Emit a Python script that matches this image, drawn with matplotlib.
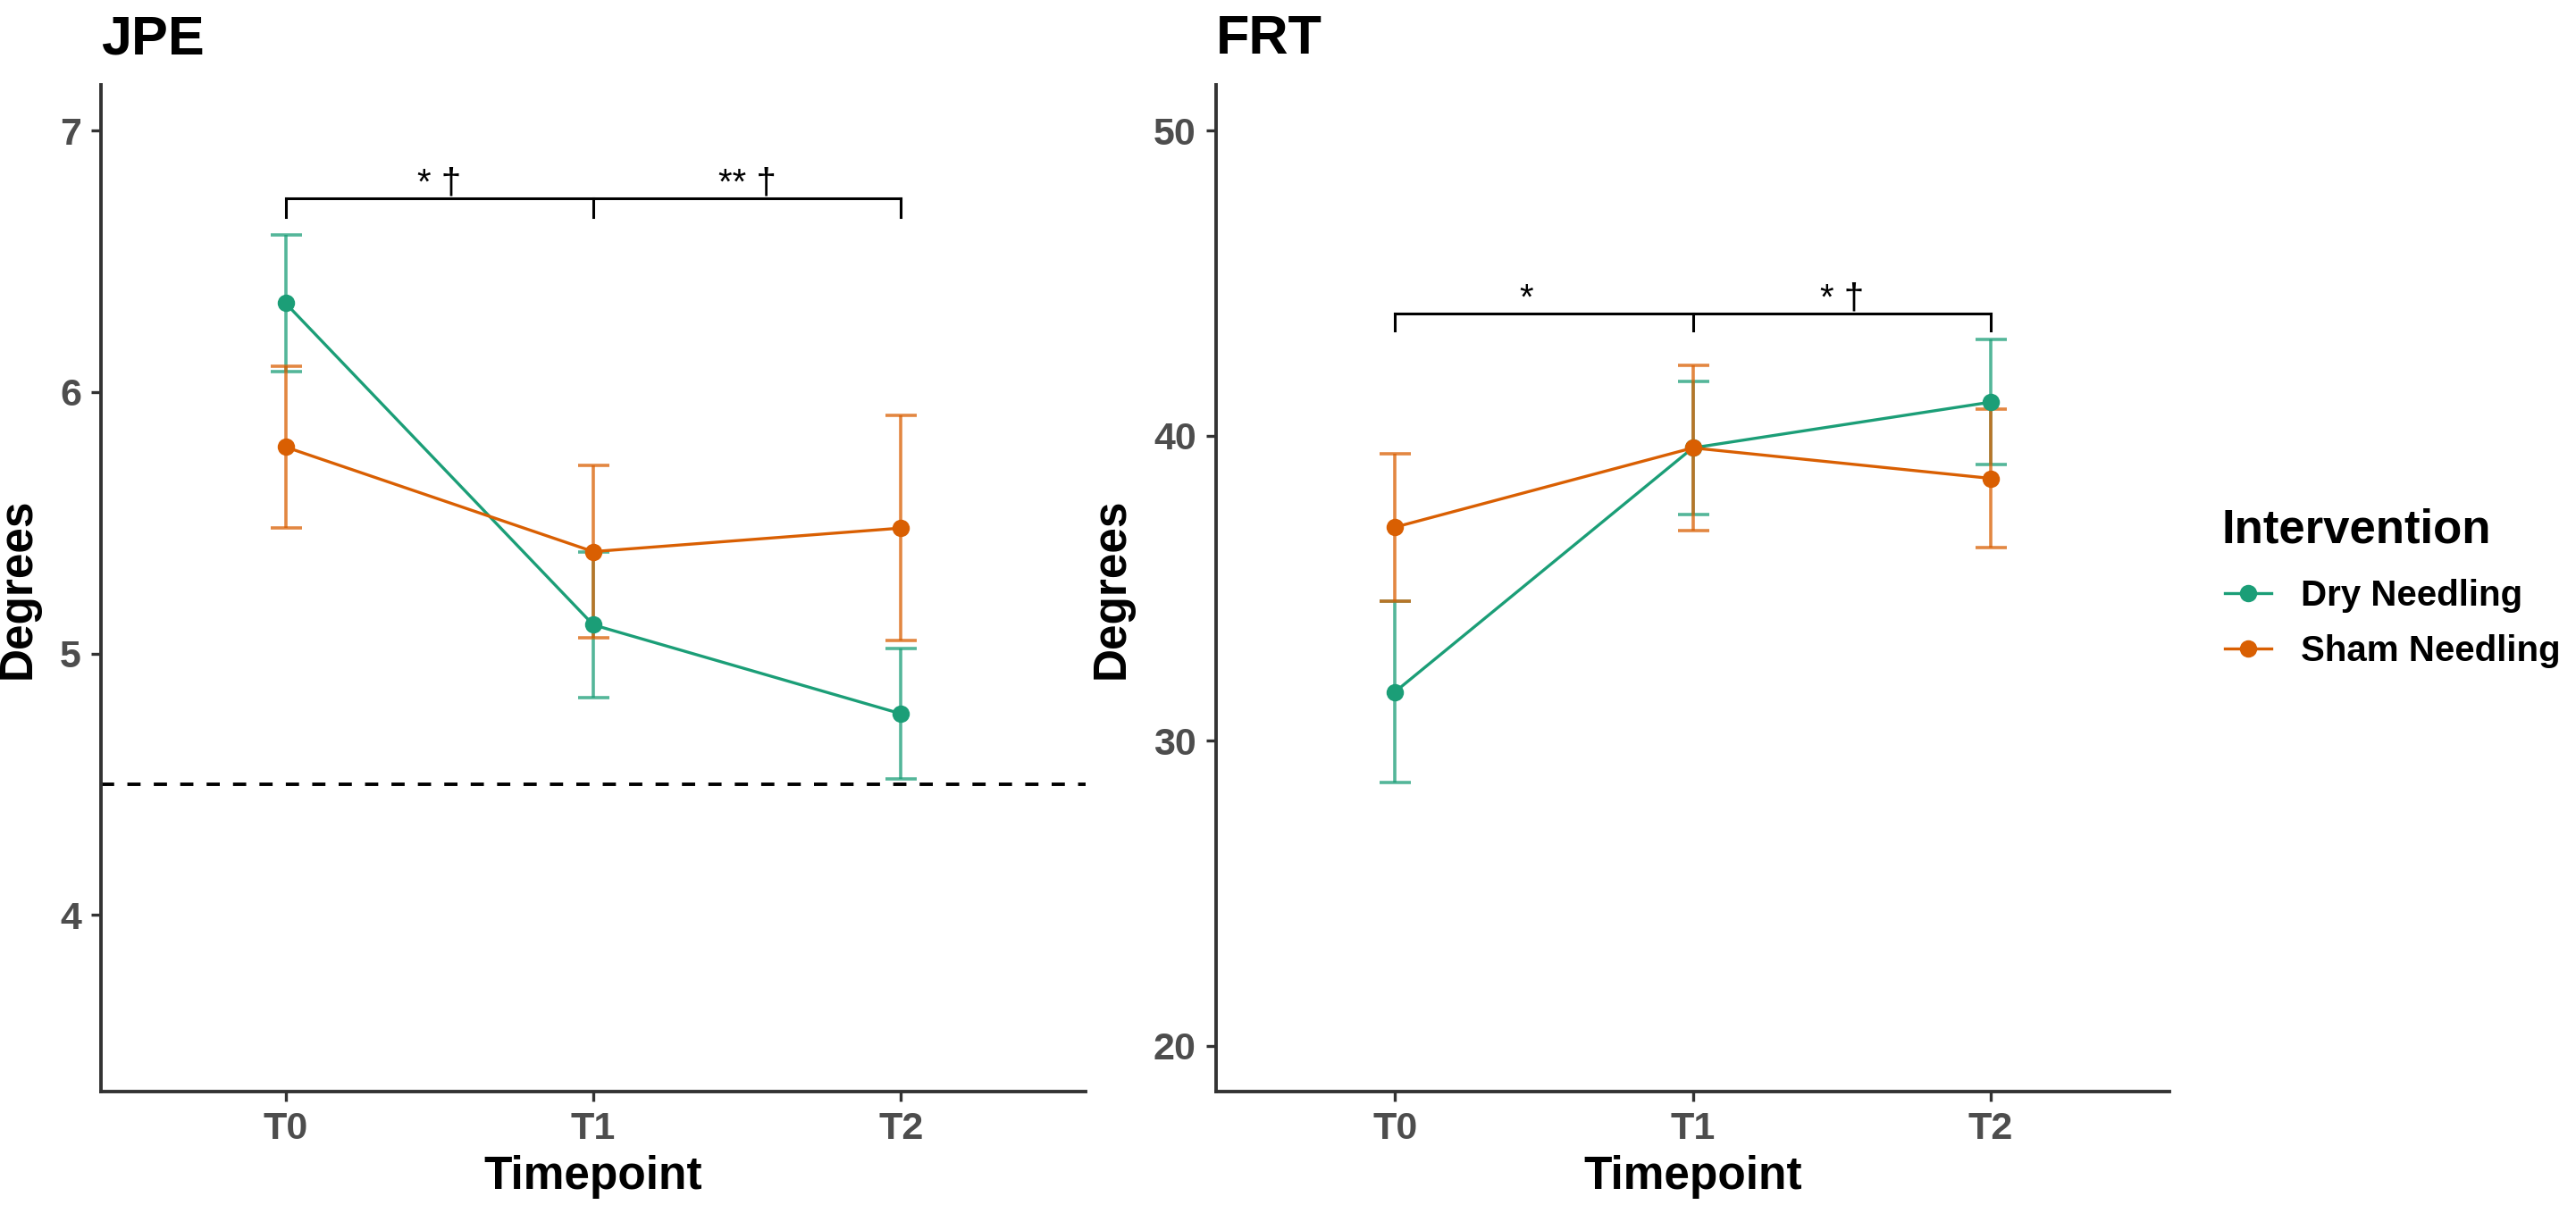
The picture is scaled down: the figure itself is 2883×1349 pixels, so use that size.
import numpy as np
import matplotlib
matplotlib.use("Agg")
import matplotlib.pyplot as plt
from matplotlib.lines import Line2D

plt.rcParams['font.family'] = ['Liberation Sans', 'DejaVu Sans']

# values
timepoints = ["T0", "T1", "T2"]
groups = ["Dry Needling", "Sham Needling"]
group_colors = ["#1B9E77", "#D95F02"]

jpe_dry_mean = [6.34, 5.11, 4.77]
jpe_dry_err = [0.26, 0.28, 0.25]
jpe_sham_mean = [5.79, 5.39, 5.48]
jpe_sham_err = [0.31, 0.33, 0.43]
jpe_cutoff = 4.5

frt_dry_mean = [31.6, 39.6, 41.1]
frt_dry_err = [2.97, 2.17, 2.05]
frt_sham_mean = [37.0, 39.6, 38.6]
frt_sham_err = [2.42, 2.70, 2.28]

jpe_sig_labels = ["* \u2020", "** \u2020"]
frt_sig_labels = ["*", "* \u2020"]
jpe_sig_y = 6.74
frt_sig_y = 44.0

x = np.arange(1, len(timepoints) + 1)

fig = plt.figure(figsize=(14.415, 6.745), dpi=200)
ax1 = fig.add_axes([0.0392, 0.0941, 0.4214 - 0.0392, 0.9296 - 0.0941])
ax2 = fig.add_axes([0.4721, 0.0941, 0.8422 - 0.4721, 0.9296 - 0.0941])

axis_col = "#333333"
tick_col = "#4D4D4D"


def draw_panel(ax, means, errs, ylim, yticks, sig_y, tip, sig_labels, sig_x):
    for m, e, c in zip(means, errs, group_colors):
        ax.errorbar(x, m, yerr=e, fmt="none", ecolor=c, elinewidth=1.3,
                    capsize=6.3, capthick=1.3, alpha=0.75, zorder=2)
        ax.plot(x, m, color=c, lw=1.2, marker="o", ms=6, zorder=3)
    # significance bracket
    ax.plot([x[0], x[-1]], [sig_y, sig_y], color="black", lw=1.1, zorder=4)
    for xi in x:
        ax.plot([xi, xi], [sig_y, sig_y - tip], color="black", lw=1.1, zorder=4)
    for lab, xs in zip(sig_labels, sig_x):
        ax.annotate(lab, (xs, sig_y), xytext=(0, 2), textcoords="offset points",
                    ha="center", va="baseline", fontsize=14.5, color="black")
    ax.set_xlim(0.4, 3.6)
    ax.set_ylim(*ylim)
    ax.set_xticks(x)
    ax.set_xticklabels(timepoints)
    ax.set_yticks(yticks)
    for s in ["top", "right"]:
        ax.spines[s].set_visible(False)
    for s in ["left", "bottom"]:
        ax.spines[s].set_color(axis_col)
        ax.spines[s].set_linewidth(1.4)
    ax.tick_params(length=4, width=1.2, color=axis_col, pad=4,
                   labelsize=15.5, labelcolor=tick_col)
    for lab in ax.get_xticklabels() + ax.get_yticklabels():
        lab.set_fontweight("bold")
    ax.set_xlabel("Timepoint", fontsize=18.5, fontweight="bold", labelpad=3)
    ax.set_ylabel("Degrees", fontsize=18.5, fontweight="bold", labelpad=8)


draw_panel(ax1, [jpe_dry_mean, jpe_sham_mean], [jpe_dry_err, jpe_sham_err],
           (3.325, 7.175), [4, 5, 6, 7], jpe_sig_y, 0.07, jpe_sig_labels, [1.5, 2.5])
ax1.axhline(jpe_cutoff, color="black", lw=1.4, ls=(0, (3.8, 3.8)), zorder=1)

draw_panel(ax2, [frt_dry_mean, frt_sham_mean], [frt_dry_err, frt_sham_err],
           (18.5, 51.5), [20, 30, 40, 50], frt_sig_y, 0.55, frt_sig_labels, [1.44, 2.5])

fig.text(0.0392, 0.9555, "JPE", fontsize=22, fontweight="bold", va="baseline", ha="left")
fig.text(0.4721, 0.9555, "FRT", fontsize=22, fontweight="bold", va="baseline", ha="left")

# legend title drawn separately so its gap to the keys can match
fig.text(0.8626, 0.55, "Intervention", fontsize=19, fontweight="bold",
         va="baseline", ha="left")
handles = [Line2D([], [], color=c, lw=1.2, marker="o", ms=6) for c in group_colors]
leg = fig.legend(handles, groups, loc="upper left", bbox_to_anchor=(0.8637, 0.5196),
                 frameon=False, prop={"size": 14.5, "weight": "bold"},
                 handlelength=1.3, handletextpad=0.8, labelspacing=0.6,
                 borderpad=0, borderaxespad=0)

fig.savefig("out.png", dpi=200)
